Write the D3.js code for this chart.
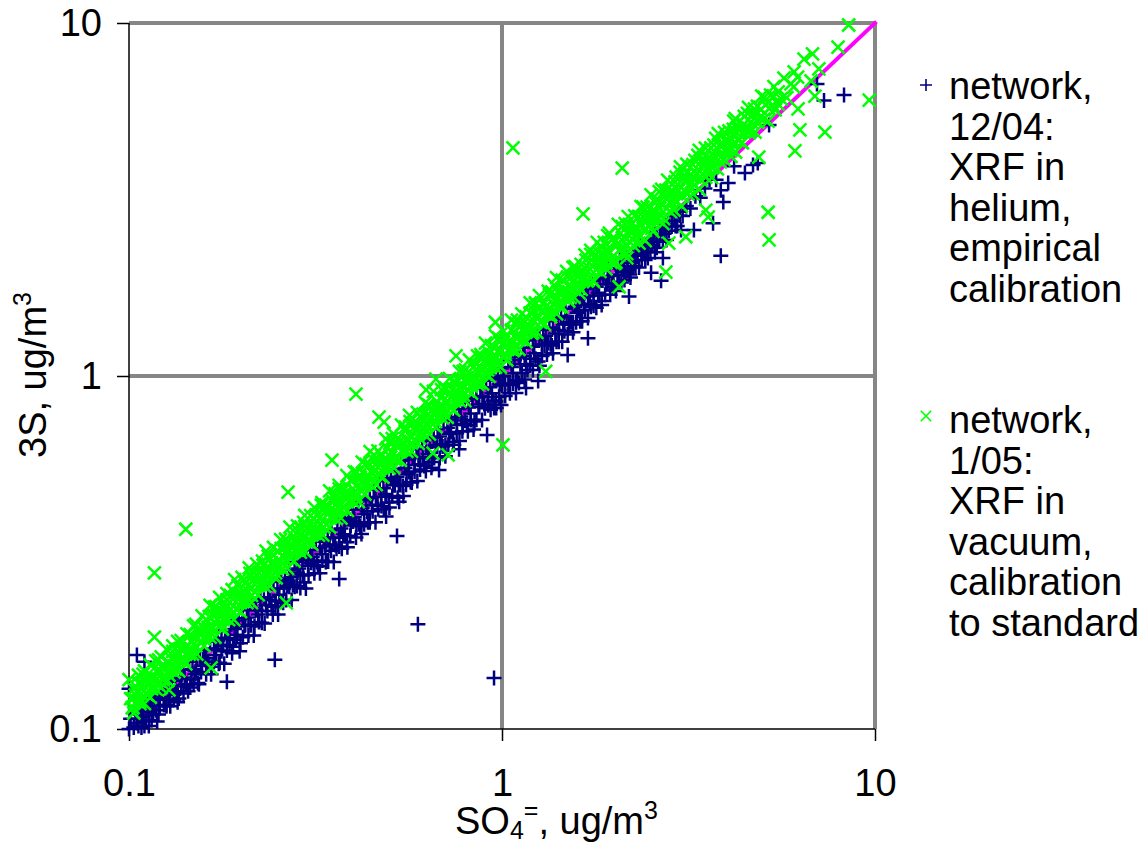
<!DOCTYPE html>
<html lang="en">
<head>
    <title>3S vs SO4</title>
    <script src="https://d3js.org/d3.v7.min.js"></script>
    <style>
        body { margin: 0; background: #fff; }
        text { font-family: "Liberation Sans", Arial, sans-serif; fill: #000; }
    </style>
</head>
<body>
<svg width="1146" height="845" id="mainsvg"></svg>
<script>
    const tickValues = [0.1, 1, 10]
    const gridValues = [1, 10]
    const identityLine = [0.1, 10]
    const legendDec04 = ['network,', '12/04:', 'XRF in', 'helium,', 'empirical', 'calibration']
    const legendJan05 = ['network,', '1/05:', 'XRF in', 'vacuum,', 'calibration', 'to standard']

    // [SO4, 3S], ug/m3
    const network1204 = [
        [.1,.1],[.101,.107],[.103,.101],[.104,.113],[.105,.104],[.107,.11],[.108,.101],[.11,.118],[.111,.105],[.113,.112],[.115,.106],[.116,.124],[.118,.113],[.12,.11],[.122,.127],[.124,.117],[.126,.116],[.128,.121],[.13,.133],[.132,.121],[.134,.128],[.136,.122],[.138,.139],[.14,.126],[.142,.134],[.144,.128],[.147,.138],
        [.149,.134],[.151,.146],[.154,.134],[.156,.145],[.158,.158],[.161,.143],[.163,.155],[.166,.143],[.169,.155],[.171,.168],[.174,.153],[.177,.166],[.18,.153],[.183,.167],[.186,.18],[.189,.164],[.192,.179],[.195,.195],[.198,.166],
        [.202,.182],[.205,.197],[.209,.184],[.212,.197],[.216,.184],[.219,.217],[.223,.201],[.227,.216],[.231,.199],[.235,.216],[.239,.232],[.243,.211],[.247,.23],[.251,.211],[.255,.23],[.26,.25],[.264,.232],[.269,.253],[.273,.232],[.278,.253],[.283,.277],[.288,.251],[.293,.272],[.298,.25],
        [.303,.273],[.308,.296],[.314,.276],[.319,.297],[.325,.276],[.33,.3],[.336,.329],[.342,.298],[.348,.32],[.354,.297],[.36,.324],[.366,.348],[.372,.324],[.379,.352],[.385,.327],[.392,.353],[.399,.387],[.406,.349],[.413,.38],[.42,.357],[.427,.38],[.435,.413],[.442,.385],[.45,.414],[.458,.385],[.466,.419],[.474,.455],[.482,.419],[.49,.456],[.499,.424],
        [.508,.457],[.516,.49],[.525,.452],[.534,.491],[.544,.457],[.553,.492],[.563,.535],[.573,.499],[.583,.536],[.593,.504],[.603,.543],[.614,.589],[.625,.538],[.636,.585],[.647,.55],[.658,.586],[.67,.63],[.681,.586],[.693,.631],[.705,.592],[.718,.639],[.73,.694],[.743,.639],[.756,.688],[.769,.654],[.783,.697],[.796,.748],[.81,.697],[.825,.751],[.839,.705],[.854,.752],[.869,.817],[.884,.751],[.9,.81],[.916,.87],[.932,.802],[.948,.853],[.965,.811],[.982,.874],
        [1,.94],[1.02,.877],[1.04,.946],[1.05,.893],[1.07,.952],[1.09,.975],[1.11,.955],[1.13,1.02],[1.15,.978],[1.17,1.04],[1.19,1.12],[1.21,1.04],[1.23,1.12],[1.26,1.07],[1.28,1.14],[1.3,1.22],[1.32,1.15],[1.35,1.23],[1.37,1.16],[1.4,1.25],[1.42,1.35],[1.45,1.25],[1.47,1.34],[1.5,1.31],[1.53,1.42],[1.55,1.33],[1.58,1.42],[1.61,1.53],[1.64,1.43],[1.67,1.54],[1.7,1.46],[1.73,1.57],[1.76,1.69],[1.79,1.56],[1.82,1.69],[1.85,1.59],[1.89,1.7],[1.92,1.82],[1.95,1.7],[1.99,1.83],
        [2.02,1.74],[2.06,1.85],[2.1,2],[2.13,1.87],[2.17,2],[2.21,1.9],[2.25,2.03],[2.29,2.2],[2.33,2.03],[2.37,2.2],[2.42,2.13],[2.46,2.36],[2.5,2.25],[2.55,2.4],[2.6,2.31],[2.65,2.52],[2.7,2.43],[2.75,2.67],[2.8,2.58],[2.86,2.75],[2.92,2.66],[2.98,2.92],[3.05,2.84],[3.12,3.03],[3.2,2.98],[3.3,3.23],[3.4,3.2],[3.5,3.4],[3.6,3.6],[3.75,3.6],
        // upper part of the band, mostly under the green
        [.105,.107],[.106,.102],[.108,.113],[.109,.108],[.11,.102],[.112,.12],[.113,.102],[.114,.114],[.116,.11],[.117,.121],[.119,.105],[.12,.122],[.121,.116],[.123,.129],[.124,.123],[.126,.117],[.127,.136],[.129,.116],[.13,.13],[.132,.125],[.133,.137],[.135,.119],[.137,.14],[.138,.132],[.14,.147],[.141,.14],[.143,.133],[.145,.155],[.146,.131],[.148,.148],[.15,.143],[.152,.157],[.153,.135],[.155,.158],[.157,.151],[.159,.167],[.161,.159],[.163,.152],[.165,.177],[.167,.15],[.169,.169],[.171,.162],[.173,.178],[.175,.154],[.177,.181],[.179,.172],[.181,.19],[.183,.181],[.186,.173],[.188,.201],[.19,.171],[.192,.192],[.195,.185],[.197,.203],[.199,.175],
        [.202,.206],[.204,.196],[.207,.217],[.209,.207],[.212,.197],[.214,.229],[.217,.195],[.219,.219],[.222,.211],[.225,.232],[.227,.2],[.23,.235],[.233,.224],[.236,.248],[.238,.236],[.241,.224],[.244,.261],[.247,.222],[.25,.25],[.253,.24],[.256,.264],[.259,.228],[.262,.267],[.265,.254],[.269,.282],[.272,.269],[.275,.256],[.278,.297],[.282,.254],[.285,.285],[.288,.274],[.292,.301],[.295,.26],[.299,.305],
        [.302,.29],[.306,.321],[.31,.307],[.313,.291],[.317,.339],[.321,.289],[.325,.325],[.329,.313],[.333,.343],[.337,.297],[.341,.348],[.345,.331],[.349,.366],[.353,.349],[.357,.332],[.362,.387],[.366,.329],[.37,.37],[.375,.356],[.379,.39],[.384,.338],[.388,.396],[.393,.377],[.398,.418],[.402,.398],[.407,.379],[.412,.441],[.417,.375],[.422,.422],[.427,.406],[.432,.445],[.437,.385],[.442,.451],[.448,.43],[.453,.476],[.459,.454],[.464,.432],[.47,.503],[.475,.428],[.481,.481],[.487,.463],[.492,.507],[.498,.438],
        [.504,.514],[.511,.491],[.517,.543],[.523,.518],[.529,.492],[.536,.574],[.542,.488],[.549,.549],[.555,.527],[.562,.579],[.569,.501],[.576,.588],[.583,.56],[.59,.62],[.597,.591],[.604,.562],[.611,.654],[.618,.556],[.626,.626],[.633,.601],[.641,.66],[.649,.571],[.656,.669],[.664,.637],[.672,.706],[.681,.674],[.689,.641],[.697,.746],[.705,.635],[.714,.714],[.722,.686],[.731,.753],[.74,.651],[.749,.764],[.758,.728],[.767,.805],[.776,.768],[.786,.731],[.795,.851],
        [.805,.725],[.814,.814],[.824,.783],[.834,.859],[.844,.743],[.854,.871],[.865,.83],[.875,.919],[.886,.877],[.896,.833],[.907,.97],[.918,.826],[.929,.929],[.94,.893],[.952,.981],[.963,.847],[.975,.995],[.986,.947],[.998,1.05],[1.01,1],[1.02,.949],[1.04,1.11],[1.05,.945],[1.06,1.06],[1.07,1.02],[1.08,1.11],[1.1,.968],[1.11,1.13],[1.12,1.08],[1.14,1.2],[1.15,1.14],[1.16,1.08],[1.18,1.26],[1.19,1.07],[1.21,1.21],[1.22,1.16],[1.23,1.27],[1.25,1.1],[1.26,1.29],[1.28,1.23],[1.29,1.35],
        [1.31,1.3],[1.33,1.24],[1.34,1.43],[1.36,1.22],[1.37,1.37],[1.39,1.32],[1.41,1.45],[1.42,1.25],[1.44,1.47],[1.46,1.4],[1.48,1.55],[1.49,1.48],[1.51,1.4],[1.53,1.64],[1.55,1.4],[1.57,1.57],[1.59,1.51],[1.6,1.65],[1.62,1.43],[1.64,1.67],[1.66,1.59],[1.68,1.76],[1.7,1.68],[1.72,1.6],[1.74,1.86],[1.76,1.58],[1.79,1.79],[1.81,1.72],[1.83,1.88],[1.85,1.63],[1.87,1.91],[1.9,1.82],[1.92,2.02],[1.94,1.92],[1.97,1.83],[1.99,1.79],
        [2.02,2.02],[2.04,1.94],[2.07,2.13],[2.09,1.84],[2.12,2.04],[2.14,1.97],[2.17,2.17],[2.2,1.94],[2.22,2.09],[2.25,2.21],[2.28,2.05],[2.31,2.19],[2.34,2.34],[2.37,2.13],[2.4,2.3],[2.43,2.24],[2.46,2.16],[2.5,2.45],[2.53,2.35],[2.57,2.24],[2.6,2.5],[2.64,2.4],[2.68,2.63],[2.72,2.53],[2.76,2.43],[2.8,2.69],[2.85,2.65],[2.9,2.84],[2.95,2.66],[3,2.85],
        // off the main band
        [.595,.198],[.952,.1395],[.246,.157],[.105,.162],[.11,.155],[.183,.136],[.912,.68],[.523,.352],[.366,.266],[.1,.13],[.115,.121],
        [3.86,2.19],[8.26,6.25],[7.3,6.03],[6.99,6.72],[5.2,5.14],[4.85,4.01],[4.71,3.96],[4.48,3.76],[4.19,3.93],[4.04,3.52],[3.86,3.36],[3.92,3.11],[3.68,2.71],[3.27,2.59],[3.02,2.59],[2.7,2.16],[2.51,1.96],[2.67,1.86],[2.19,1.68],
        [1.7,1.28],[1.5,1.147],[1.25,.968],[1.16,.925],[1.09,.895],[.994,.827],[.952,.812],[.767,.62],[.678,.542],[.53,.44],[.489,.4]
    ]

    const network0105 = [
        [.1,.138],[.101,.122],[.102,.115],[.103,.13],[.105,.128],[.106,.142],[.107,.12],[.108,.135],[.11,.146],[.111,.126],[.112,.134],[.114,.152],[.115,.13],[.116,.14],[.118,.156],[.119,.134],[.12,.148],[.122,.16],[.123,.138],[.125,.15],[.126,.168],[.128,.142],[.13,.158],[.131,.172],[.133,.148],[.135,.165],[.136,.156],[.138,.178],[.14,.157],[.142,.17],[.143,.186],[.145,.163],[.147,.178],[.149,.196],
        [.151,.172],[.153,.191],[.155,.186],[.157,.209],[.159,.18],[.161,.204],[.163,.194],[.165,.224],[.167,.192],[.169,.21],[.171,.222],[.173,.204],[.175,.236],[.177,.198],[.179,.226],[.181,.219],[.183,.242],[.185,.215],[.187,.239],[.19,.234],[.192,.265],[.194,.219],[.196,.255],[.199,.239],
        [.201,.269],[.203,.233],[.206,.26],[.208,.254],[.21,.286],[.213,.239],[.215,.277],[.218,.257],[.22,.293],[.223,.277],[.225,.257],[.228,.299],[.23,.276],[.233,.319],[.236,.274],[.238,.302],[.241,.294],[.244,.327],[.247,.277],[.25,.32],[.252,.3],[.255,.344],[.258,.294],[.261,.326],[.264,.343],[.267,.323],[.27,.373],[.273,.314],[.276,.351],[.279,.343],[.283,.376],[.286,.323],[.289,.373],[.293,.346],[.296,.403],
        [.3,.372],[.303,.345],[.307,.402],[.31,.372],[.314,.424],[.317,.368],[.321,.404],[.325,.397],[.329,.438],[.333,.373],[.337,.431],[.341,.406],[.345,.473],[.349,.401],[.353,.441],[.357,.464],[.362,.438],[.366,.49],[.37,.418],[.375,.476],[.379,.466],[.384,.522],[.388,.454],[.393,.507],[.398,.478],
        [.402,.535],[.407,.456],[.412,.519],[.417,.517],[.422,.57],[.427,.491],[.432,.562],[.438,.517],[.443,.611],[.448,.511],[.454,.577],[.459,.56],[.465,.614],[.47,.522],[.476,.595],[.482,.574],[.488,.664],[.494,.573],
        [.5,.645],[.506,.612],[.512,.686],[.518,.58],[.525,.662],[.531,.653],[.538,.726],[.544,.62],[.551,.716],[.558,.658],[.565,.774],[.572,.646],[.579,.735],[.586,.703],[.593,.789],[.601,.667],[.608,.76],[.616,.752],[.623,.841],[.631,.726],[.639,.824],[.647,.757],[.655,.904],[.663,.743],[.671,.845],[.68,.823],[.688,.915],[.697,.795],
        [.705,.917],[.714,.85],[.723,.983],[.732,.813],[.741,.919],[.75,.96],[.76,.882],[.769,1.03],[.779,.943],[.788,.883],[.798,1.04],[.808,.953],[.818,1.11],[.828,.936],[.839,1.06],[.849,1.04],[.86,1.14],[.871,.958],[.881,1.13],[.892,1.04],[.903,1.24],[.915,1.04],[.926,1.16],[.937,1.22],[.949,1.14],[.961,1.3],[.973,1.08],[.985,1.25],[.997,1.18],
        [1.01,1.34],[1.02,1.15],[1.03,1.29],[1.05,1.26],[1.06,1.44],[1.07,1.18],[1.09,1.41],[1.1,1.28],[1.11,1.38],[1.13,1.5],[1.14,1.28],[1.16,1.47],[1.17,1.4],[1.19,1.61],[1.2,1.32],[1.22,1.53],[1.23,1.6],[1.25,1.46],[1.26,1.69],[1.28,1.43],[1.3,1.61],[1.31,1.57],[1.33,1.74],[1.35,1.47],[1.36,1.73],[1.38,1.59],[1.4,1.9],[1.42,1.72],[1.43,1.57],[1.45,1.87],[1.47,1.73],[1.49,1.98],
        [1.51,1.63],[1.53,1.9],[1.55,1.77],[1.57,2.04],[1.59,1.91],[1.61,1.72],[1.63,2.07],[1.65,1.91],[1.67,2.2],[1.69,1.86],[1.71,2.09],[1.73,2.21],[1.76,1.85],[1.78,2.08],[1.8,2.39],[1.83,2.05],[1.85,2.31],[1.87,2.23],[1.9,2.01],[1.92,2.5],[1.95,2.24],[1.97,2.44],
        [2,2.08],[2.02,2.42],[2.05,2.69],[2.08,2.29],[2.1,2.65],[2.13,2.47],[2.16,2.22],[2.18,2.83],[2.21,2.67],[2.24,2.44],[2.27,2.84],[2.3,2.62],[2.33,2.38],[2.36,3.02],[2.39,2.82],[2.42,2.59],[2.45,3.01],[2.48,2.78],[2.51,3.26],[2.54,2.57],[2.58,3.1],[2.61,2.82],[2.64,3.33],[2.68,3.08],[2.71,2.79],[2.75,3.36],[2.78,3.59],[2.82,3.1],[2.85,3.36],[2.89,2.95],[2.93,3.66],[2.97,3.36],
        [3.01,3.91],[3.05,3.23],[3.09,3.71],[3.13,3.98],[3.17,3.46],[3.21,3.72],[3.25,3.28],[3.29,4.08],[3.34,3.74],[3.38,4.36],[3.42,3.59],[3.47,4.13],[3.51,4.42],[3.56,3.84],[3.6,4.14],[3.65,3.65],[3.7,4.51],[3.75,4.16],[3.8,4.86],[3.85,4.04],[3.9,4.56],[3.95,4.9],
        [4,4.32],[4.06,4.63],[4.11,4.19],[4.17,5],[4.22,5.36],[4.28,4.67],[4.34,5.03],[4.4,4.58],[4.46,5.44],[4.52,5.06],[4.58,5.77],[4.64,4.96],[4.7,5.5],[4.77,4.91],[4.84,5.81],[4.9,5.39],[4.97,6.21],
        [5.04,5.34],[5.1,5.87],[5.17,5.27],[5.25,6.25],[5.32,5.85],[5.36,6.6],[5.4,5.67],[5.5,6.38],[5.6,6.1],[5.7,6.98],[5.8,6.15],[5.95,6.72],[6.05,6.59],[6.07,7.27],[6.2,7.03],
        // filling the band
        [.103,.111],[.104,.125],[.105,.12],[.106,.135],[.107,.118],[.108,.126],[.109,.143],[.11,.118],[.111,.137],[.112,.125],[.113,.134],[.114,.123],[.115,.138],[.116,.132],[.117,.149],[.118,.13],[.119,.139],[.12,.157],[.122,.131],[.123,.151],[.124,.139],[.125,.149],[.127,.137],[.128,.154],[.129,.147],[.131,.166],[.132,.145],[.133,.156],[.135,.177],[.136,.146],[.137,.169],[.139,.156],[.14,.167],[.142,.153],[.143,.172],[.145,.165],[.146,.185],[.148,.163],[.149,.174],
        [.151,.198],[.152,.163],[.154,.189],[.156,.175],[.157,.187],[.159,.172],[.16,.192],[.162,.185],[.164,.208],[.165,.182],[.167,.195],[.169,.221],[.17,.182],[.172,.212],[.174,.195],[.176,.209],[.178,.192],[.179,.215],[.181,.206],[.183,.232],[.185,.204],[.187,.219],[.189,.248],[.191,.204],[.193,.237],[.195,.218],[.197,.234],[.199,.215],
        [.201,.241],[.203,.231],[.205,.26],[.207,.228],[.209,.245],[.211,.276],[.213,.228],[.216,.266],[.218,.244],[.22,.262],[.222,.24],[.224,.269],[.227,.259],[.229,.291],[.231,.254],[.234,.274],[.236,.309],[.238,.255],[.241,.296],[.243,.272],[.246,.293],[.248,.268],[.251,.301],[.253,.288],[.256,.325],[.258,.284],[.261,.305],[.263,.345],[.266,.285],[.269,.331],[.271,.304],[.274,.326],[.277,.299],[.28,.336],[.282,.321],[.285,.362],[.288,.317],[.291,.34],[.294,.385],[.297,.318],
        [.3,.369],[.303,.339],[.306,.364],[.309,.334],[.312,.374],[.315,.359],[.318,.404],[.322,.354],[.325,.38],[.328,.43],[.331,.354],[.335,.412],[.338,.379],[.341,.406],[.345,.373],[.348,.418],[.352,.401],[.355,.451],[.359,.395],[.362,.424],[.366,.479],[.37,.396],[.373,.459],[.377,.422],[.381,.453],[.385,.416],[.388,.466],[.392,.447],[.396,.503],
        [.4,.44],[.404,.473],[.408,.534],[.412,.441],[.416,.512],[.421,.472],[.425,.506],[.429,.463],[.433,.52],[.438,.499],[.442,.561],[.446,.491],[.451,.528],[.455,.596],[.46,.492],[.465,.572],[.469,.525],[.474,.564],[.479,.517],[.483,.58],[.488,.556],[.493,.626],[.498,.548],
        [.503,.589],[.508,.665],[.513,.549],[.518,.637],[.523,.586],[.529,.63],[.534,.577],[.539,.647],[.545,.621],[.55,.699],[.556,.612],[.561,.656],[.567,.743],[.572,.612],[.578,.711],[.584,.654],[.59,.702],[.596,.644],[.602,.722],[.608,.693],[.614,.78],[.62,.682],[.626,.732],[.633,.829],[.639,.684],[.645,.793],[.652,.73],[.658,.783],[.665,.718],[.672,.806],[.678,.773],[.685,.87],[.692,.761],[.699,.818],
        [.706,.925],[.713,.763],[.72,.886],[.727,.814],[.735,.875],[.742,.801],[.749,.899],[.757,.863],[.764,.97],[.772,.849],[.78,.913],[.787,1.03],[.795,.851],[.803,.988],[.811,.908],[.819,.975],[.828,.894],[.836,1],[.844,.962],[.853,1.08],[.861,.947],[.87,1.02],[.878,1.15],[.887,.949],[.896,1.1],[.905,1.01],[.914,1.09],[.923,.997],[.932,1.12],[.942,1.07],[.951,1.21],[.961,1.06],[.97,1.13],[.98,1.28],[.99,1.06],
        [1,1.23],[1.01,1.13],[1.02,1.21],[1.03,1.11],[1.04,1.25],[1.05,1.2],[1.06,1.35],[1.08,1.19],[1.09,1.28],[1.1,1.44],[1.11,1.19],[1.12,1.38],[1.13,1.27],[1.15,1.37],[1.16,1.25],[1.17,1.4],[1.18,1.35],[1.19,1.51],[1.21,1.33],[1.22,1.43],[1.23,1.61],[1.24,1.33],[1.26,1.55],[1.27,1.42],[1.28,1.52],[1.3,1.4],[1.31,1.57],[1.32,1.5],[1.34,1.7],[1.35,1.49],[1.37,1.6],[1.38,1.81],[1.4,1.5],[1.41,1.73],[1.42,1.59],[1.44,1.71],[1.45,1.57],[1.47,1.76],[1.48,1.69],
        [1.5,1.91],[1.52,1.67],[1.53,1.79],[1.55,2.03],[1.56,1.67],[1.58,1.94],[1.6,1.79],[1.61,1.92],[1.63,1.76],[1.65,1.98],[1.66,1.89],[1.68,2.13],[1.7,1.87],[1.72,2.01],[1.73,2.27],[1.75,1.87],[1.77,2.18],[1.79,2],[1.81,2.15],[1.83,1.98],[1.84,2.21],[1.86,2.12],[1.88,2.39],[1.9,2.09],[1.92,2.25],[1.94,2.54],[1.96,2.1],[1.98,2.44],
        [2.02,2.1],[2.04,2.37],[2.06,2.27],[2.08,2.54],[2.1,2.23],[2.12,2.4],[2.14,2.7],[2.16,2.16],[2.19,2.58],[2.21,2.39],[2.23,2.56],[2.25,2.34],[2.28,2.64],[2.3,2.53],[2.32,2.83],[2.35,2.49],[2.37,2.68],[2.39,3.01],[2.42,2.42],[2.44,2.88],[2.47,2.67],[2.49,2.86],[2.52,2.62],[2.54,2.95],[2.57,2.83],[2.6,3.17],[2.62,2.78],[2.65,2.99],[2.68,3.38],[2.7,2.7],[2.73,3.22],[2.76,2.98],[2.79,3.21],[2.82,2.93],[2.85,3.31],[2.88,3.17],[2.91,3.55],[2.94,3.12],[2.97,3.36],
        [3,3.78],[3.03,3.03],[3.06,3.61],[3.09,3.34],[3.12,3.59],[3.15,3.28],[3.19,3.7],[3.22,3.54],[3.25,3.97],[3.28,3.48],[3.32,3.75],[3.35,4.22],[3.38,3.38],[3.42,4.04],[3.45,3.73],[3.49,4.01],[3.52,3.66],[3.56,4.13],[3.6,3.96],[3.63,4.43],[3.67,3.89],[3.71,4.19],[3.74,4.71],[3.78,3.86],[3.82,4.51],[3.86,4.17],[3.9,4.49],[3.94,4.1],[3.98,4.62],
        [4.02,4.42],[4.06,4.95],[4.1,4.35],[4.14,4.68],[4.18,5.27],[4.23,4.31],[4.27,5.04],[4.31,4.65],[4.36,5.01],[4.41,4.58],[4.45,5.16],[4.5,4.95],[4.55,5.55],[4.6,4.88],[4.65,5.25],[4.75,5.7],[4.85,5.24],[4.95,5.69],[5.05,6.16],[5.2,5.72],[5.35,6.21],[5.5,5.89],
        // off the main band
        [1.07,4.43],[.406,.889],[1.006,.638],[.142,.368],[.117,.277],[1.65,2.88],[2.1,3.88],[.267,.469],[.35,.578],
        [8.5,9.87],[7.96,8.55],[6.8,8.17],[6.45,7.9],[7.07,7.41],[6.74,6.85],[6.9,6.21],[9.65,6.05],[6.22,5.71],[6.29,4.98],[7.34,4.91],[6.1,4.34],[5.17,2.91],[5.2,2.43],
        [4.88,4.17],[3.57,2.82],[3.52,2.95],[3.11,2.48],[2.75,1.97],[2.06,1.79],[2.8,2.38],
        [1.31,1.03],[.717,.598],[.653,.605],[.468,.765],[.483,.74],[.626,.913],[.665,.98],[.753,1.14],[.96,1.42],
        [.264,.2275],[.166,.149],[.128,.129],[.117,.182],[.1025,.115],[.1025,.122]
    ]

    const margin = {top: 23, right: 271, bottom: 116, left: 129}
    const width = 1146, height = 845
    const svg = d3.select('#mainsvg')

    const xScale = d3.scaleLog().domain([0.1, 10]).range([margin.left, width - margin.right])
    const yScale = d3.scaleLog().domain([0.1, 10]).range([height - margin.bottom, margin.top])

    const plusPath = 'M-7.5,0H7.5M0,-7.5V7.5'
    const crossPath = 'M-6.5,-6.5L6.5,6.5M-6.5,6.5L6.5,-6.5'

    // grey lines at 1 and 10
    svg.append('g').selectAll('line').data(gridValues).join('line')
        .attr('x1', d => xScale(d)).attr('x2', d => xScale(d))
        .attr('y1', yScale(0.1)).attr('y2', yScale(10))
        .attr('stroke', '#868686').attr('stroke-width', 4)
    svg.append('g').selectAll('line').data(gridValues).join('line')
        .attr('y1', d => yScale(d)).attr('y2', d => yScale(d))
        .attr('x1', xScale(0.1)).attr('x2', xScale(10))
        .attr('stroke', '#868686').attr('stroke-width', 4)

    const xAxis = d3.axisBottom(xScale).tickValues(tickValues).tickFormat(d3.format('~g')).tickSize(12).tickPadding(28)
    const yAxis = d3.axisLeft(yScale).tickValues(tickValues).tickFormat(d3.format('~g')).tickSize(12).tickPadding(15)

    const xAxisGroup = svg.append('g').attr('transform', `translate(0, ${height - margin.bottom})`).call(xAxis)
    const yAxisGroup = svg.append('g').attr('transform', `translate(${margin.left}, 0)`).call(yAxis)
    xAxisGroup.selectAll('.domain').attr('d', `M${xScale(0.1)},0H${xScale(10)}`)
    yAxisGroup.selectAll('.domain').attr('d', `M0,${yScale(0.1)}V${yScale(10)}`)
    svg.selectAll('.tick text').attr('font-size', 38).attr('font-family', '"Liberation Sans", Arial, sans-serif')
    svg.selectAll('.domain, .tick line').attr('stroke', '#000').attr('stroke-width', 1.5)

    svg.append('line')
        .attr('x1', xScale(identityLine[0])).attr('y1', yScale(identityLine[0]))
        .attr('x2', xScale(identityLine[1])).attr('y2', yScale(identityLine[1]))
        .attr('stroke', '#ff00ff').attr('stroke-width', 4).attr('stroke-linecap', 'square')

    svg.append('g').selectAll('path').data(network1204).join('path')
        .attr('d', plusPath)
        .attr('transform', d => `translate(${xScale(d[0])}, ${yScale(d[1])})`)
        .attr('fill', 'none').attr('stroke', '#000080').attr('stroke-width', 2.5)

    svg.append('g').selectAll('path').data(network0105).join('path')
        .attr('d', crossPath)
        .attr('transform', d => `translate(${xScale(d[0])}, ${yScale(d[1])})`)
        .attr('fill', 'none').attr('stroke', '#00ff00').attr('stroke-width', 2.5)

    // axis titles, with sub and superscripts
    const xTitle = svg.append('text').attr('x', 455).attr('y', 834).attr('font-size', 38)
    xTitle.append('tspan').text('SO')
    xTitle.append('tspan').text('4').attr('font-size', 25).attr('dy', 5)
    xTitle.append('tspan').text('=').attr('font-size', 25).attr('dy', -20)
    xTitle.append('tspan').text(', ug/m').attr('dy', 15)
    xTitle.append('tspan').text('3').attr('font-size', 25).attr('dy', -15)

    const yTitle = svg.append('text').attr('transform', 'translate(46, 458) rotate(-90)').attr('font-size', 38)
    yTitle.append('tspan').text('3S, ug/m')
    yTitle.append('tspan').text('3').attr('font-size', 25).attr('dy', -15)

    // legend
    const drawLegend = function (lines, markPath, color, markY, firstBaseline) {
        svg.append('path').attr('d', markPath)
            .attr('transform', `translate(926, ${markY}) scale(0.8)`)
            .attr('fill', 'none').attr('stroke', color).attr('stroke-width', 2)
        svg.append('g').selectAll('text').data(lines).join('text')
            .attr('x', 949)
            .attr('y', (d, i) => firstBaseline + i * 40.6)
            .attr('font-size', 38)
            .text(d => d)
    }
    drawLegend(legendDec04, plusPath, '#000080', 85, 99)
    drawLegend(legendJan05, crossPath, '#00ff00', 416, 433)
</script>
</body>
</html>
